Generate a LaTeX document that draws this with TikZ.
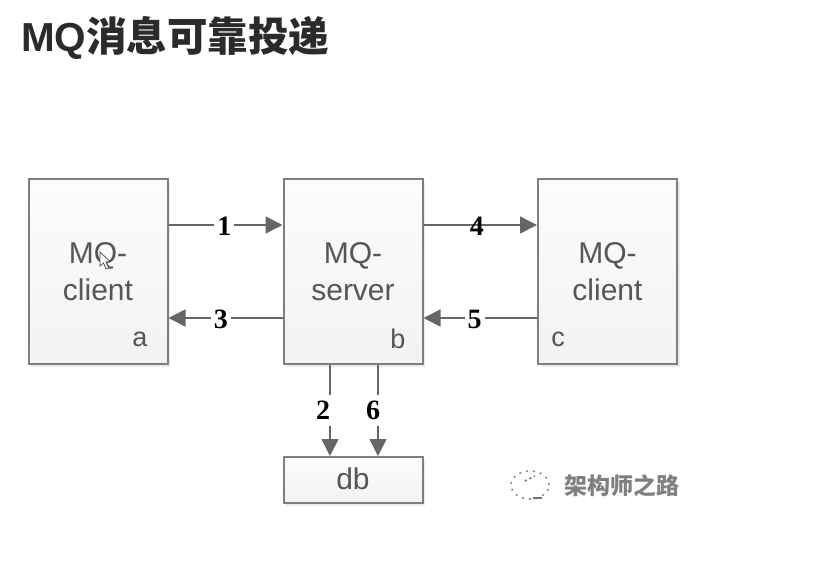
\documentclass[tikz,border=0pt]{standalone}
\usepackage{fontspec}
\setmainfont{Liberation Sans}
\newfontfamily\cjk{Noto Sans CJK SC}
\newfontfamily\numf{Liberation Serif}
\usetikzlibrary{shadows,arrows.meta,calc}
\definecolor{edgegray}{HTML}{7E7E7E}
\definecolor{inkgray}{HTML}{55555B}
\definecolor{arrowgray}{HTML}{666666}
\definecolor{titleink}{HTML}{2B2B2B}
\tikzset{
  boxnode/.style={draw=edgegray,line width=2pt,top color=black!1,bottom color=black!5,
    inner sep=0pt,text=inkgray,align=center,font=\fontsize{30}{37}\selectfont,
    drop shadow={shadow xshift=2.5pt,shadow yshift=-2.5pt,fill=black!15,opacity=.5}},
  cornertext/.style={text=inkgray,font=\fontsize{27}{30}\selectfont,inner sep=0pt},
  link/.style={draw=arrowgray,line width=1.6pt,-{Triangle[length=17pt,width=17pt]}},
  numlabel/.style={fill=white,inner xsep=3pt,inner ysep=1pt,text=black,
    font=\numf\bfseries\fontsize{28}{28}\selectfont},
}
\begin{document}
\begin{tikzpicture}[x=1pt,y=-1pt]
\useasboundingbox[fill=white] (0,0) rectangle (828,565);
\node[anchor=west,inner sep=0pt,text=titleink,font=\fontsize{40.5}{44}\selectfont\bfseries] (title) at (21,38) {MQ{\cjk\bfseries 消息可靠投递}};
\node[boxnode,minimum width=139pt,minimum height=185pt] (a) at (98,271.5) {MQ-\\client};
\node[boxnode,minimum width=139pt,minimum height=185pt] (b) at (353,271.5) {MQ-\\server};
\node[boxnode,minimum width=139pt,minimum height=185pt] (c) at (607.5,271.5) {MQ-\\client};
\node[boxnode,minimum width=139pt,minimum height=46pt] (db) at (353,480) {\raisebox{2pt}{db}};
\node[cornertext] (la) at (140,339) {a};
\node[cornertext] (lb) at (398,339) {b};
\node[cornertext] (lc) at (558,339) {c};
% connectors
\draw[link] ([yshift=46.5pt]a.east) -- node[numlabel,pos=.49,yshift=-1pt] (n1) {1} ([yshift=46.5pt]b.west);
\draw[link] ([yshift=-46.5pt]b.west) -- node[numlabel,pos=.54,yshift=-1pt] (n3) {3} ([yshift=-46.5pt]a.east);
\draw[link] ([yshift=46.5pt]b.east) -- node[numlabel,pos=.47,fill=none,yshift=-1pt] (n4) {4} ([yshift=46.5pt]c.west);
\draw[link] ([yshift=-46.5pt]c.west) -- node[numlabel,pos=.55,yshift=-1pt] (n5) {5} ([yshift=-46.5pt]b.east);
\draw[link] ([xshift=-23pt]b.south) -- node[numlabel,pos=.5,xshift=-7pt,fill=white,inner xsep=9pt,inner ysep=6pt] (n2) {2} ([xshift=-23pt]db.north);
\draw[link] ([xshift=25pt]b.south) -- node[numlabel,pos=.5,xshift=-5pt,fill=white,inner xsep=9pt,inner ysep=6pt] (n6) {6} ([xshift=25pt]db.north);
% mouse cursor
\draw[fill=white,draw=inkgray,line width=.8pt] (100,252) -- (100,266) -- (103.5,263) -- (106,269) -- (108.5,268) -- (106,262) -- (110,261.5) -- cycle;
% watermark
\draw[black!45,line width=1.6pt,dash pattern=on 2pt off 5pt] (530,485) circle[x radius=19pt,y radius=14pt];
\draw[black!55,line width=1.6pt,dash pattern=on 2pt off 3pt] (525,481) -- (535,476);
\draw[black!55,line width=1.6pt] (533,498) -- (542,498);
\node[anchor=west,inner sep=0pt,text=black!50,font=\cjk\bfseries\fontsize{23}{23}\selectfont] (wm) at (564,486) {架构师之路};
\end{tikzpicture}
\end{document}
